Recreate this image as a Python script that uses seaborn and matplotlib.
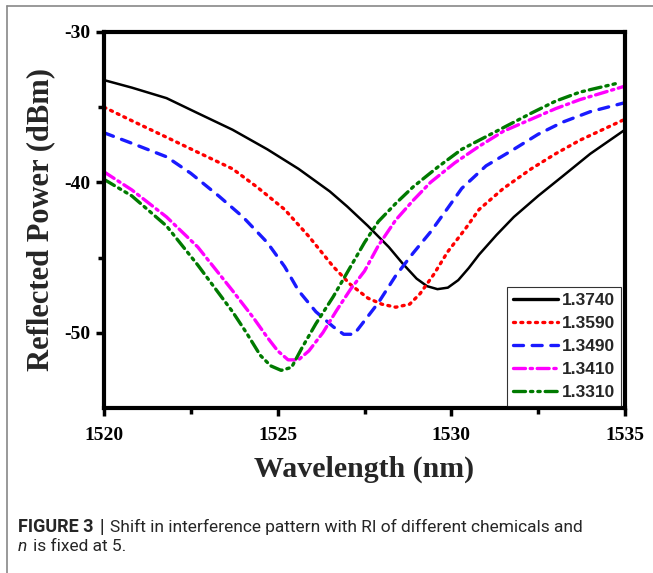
#!/usr/bin/env python3
"""Reflected power vs wavelength for different refractive indices"""

import matplotlib

matplotlib.use("Agg")
import matplotlib.pyplot as plt
import matplotlib.lines as mlines
import pandas as pd
import seaborn as sns

###########################################################
# Data
###########################################################

ri_labels = ["1.3740", "1.3590", "1.3490", "1.3410", "1.3310"]

wl_1374 = [1520.0, 1520.8, 1521.8, 1522.7, 1523.7, 1524.7, 1525.6, 1526.5, 1527.0,
           1527.6, 1528.2, 1528.6, 1529.0, 1529.3, 1529.6, 1529.9, 1530.2, 1530.5,
           1530.8, 1531.3, 1531.8, 1532.5, 1533.2, 1534.0, 1535.0]
pw_1374 = [-33.2, -33.7, -34.4, -35.4, -36.5, -37.8, -39.1, -40.6, -41.6,
           -42.9, -44.3, -45.4, -46.4, -46.9, -47.1, -47.0, -46.5, -45.7,
           -44.8, -43.5, -42.3, -40.9, -39.6, -38.1, -36.5]

wl_1359 = [1520.0, 1520.8, 1521.8, 1522.7, 1523.7, 1524.4, 1525.2, 1525.9, 1526.6,
           1527.1, 1527.6, 1528.0, 1528.4, 1528.8, 1529.1, 1529.5, 1529.9, 1530.4,
           1530.8, 1531.5, 1532.3, 1533.0, 1533.7, 1535.0]
pw_1359 = [-35.0, -35.9, -37.0, -38.0, -39.1, -40.3, -41.8, -43.6, -45.6,
           -46.8, -47.7, -48.1, -48.3, -48.1, -47.4, -46.1, -44.6, -43.1,
           -41.8, -40.4, -39.1, -38.1, -37.2, -35.8]

wl_1349 = [1520.0, 1520.8, 1521.8, 1522.5, 1523.3, 1524.0, 1524.7, 1525.2, 1525.6,
           1526.1, 1526.6, 1526.9, 1527.2, 1527.5, 1527.9, 1528.4, 1528.9, 1529.4,
           1529.9, 1530.3, 1531.0, 1531.8, 1532.5, 1533.2, 1534.0, 1535.0]
pw_1349 = [-36.7, -37.4, -38.3, -39.4, -40.9, -42.3, -44.0, -45.6, -47.2,
           -48.6, -49.6, -50.1, -50.1, -49.2, -48.0, -46.2, -44.7, -43.3,
           -41.7, -40.4, -38.9, -37.8, -36.8, -36.0, -35.3, -34.7]

wl_1341 = [1520.0, 1520.8, 1521.8, 1522.7, 1523.7, 1524.3, 1524.7, 1525.0, 1525.3,
           1525.6, 1525.9, 1526.3, 1526.7, 1527.1, 1527.5, 1527.9, 1528.4, 1528.9,
           1529.4, 1530.1, 1530.8, 1531.5, 1532.3, 1533.0, 1533.7, 1535.0]
pw_1341 = [-39.3, -40.5, -42.3, -44.3, -47.2, -49.0, -50.3, -51.2, -51.8,
           -51.8, -51.2, -50.0, -48.5, -47.1, -45.9, -44.2, -42.5, -41.2,
           -40.0, -38.7, -37.6, -36.6, -35.8, -35.1, -34.5, -33.6]

wl_1331 = [1520.0, 1520.8, 1521.8, 1522.7, 1523.7, 1524.1, 1524.5, 1524.8, 1525.1,
           1525.4, 1525.7, 1526.1, 1526.6, 1527.0, 1527.5, 1527.9, 1528.4, 1528.9,
           1529.6, 1530.3, 1531.3, 1532.3, 1533.0, 1533.7, 1534.8]
pw_1331 = [-39.8, -40.9, -42.9, -45.5, -48.6, -50.0, -51.5, -52.2, -52.5,
           -52.3, -51.0, -49.4, -47.6, -46.0, -44.0, -42.6, -41.4, -40.3,
           -39.0, -37.8, -36.6, -35.4, -34.6, -34.0, -33.4]

series = {
    "1.3740": (wl_1374, pw_1374),
    "1.3590": (wl_1359, pw_1359),
    "1.3490": (wl_1349, pw_1349),
    "1.3410": (wl_1341, pw_1341),
    "1.3310": (wl_1331, pw_1331),
}

x_ticks = [1520, 1525, 1530, 1535]
y_ticks = [-30, -40, -50]

###########################################################
# Main
###########################################################


def main():
    rows = []
    for ri, (wl, pw) in series.items():
        for w, p in zip(wl, pw):
            rows.append({"wavelength": w, "power": p, "RI": ri})
    df = pd.DataFrame(rows)

    sns.set_theme(style="ticks")
    plt.rcParams["font.family"] = ["Liberation Serif", "DejaVu Serif"]
    plt.rcParams["axes.unicode_minus"] = False

    fig = plt.figure(figsize=(6.53, 5.73), dpi=100)
    ax = fig.add_axes([0.1593, 0.2880, 0.7978, 0.6562])

    palette = {
        "1.3740": "#000000",
        "1.3590": "#ff0000",
        "1.3490": "#1a1aff",
        "1.3410": "#ff00ff",
        "1.3310": "#007a00",
    }
    dashes = {
        "1.3740": "",
        "1.3590": (0.6, 1.6),
        "1.3490": (3.0, 2.6),
        "1.3410": (3.6, 1.4, 0.7, 1.4),
        "1.3310": (3.6, 1.5, 0.7, 1.5, 0.7, 1.5),
    }
    sns.lineplot(
        data=df,
        x="wavelength",
        y="power",
        hue="RI",
        style="RI",
        hue_order=ri_labels,
        style_order=ri_labels,
        palette=palette,
        dashes=dashes,
        linewidth=2.4,
        estimator=None,
        ax=ax,
    )
    for line in ax.lines:
        line.set_dash_capstyle("round")
        line.set_solid_capstyle("round")
        line.set_solid_joinstyle("round")
    ax.lines[0].set_linewidth(1.8)

    ax.set_xlim(1520, 1535)
    ax.set_ylim(-55, -30)
    ax.set_xticks(x_ticks)
    ax.set_yticks(y_ticks)
    ax.set_xticks([1522.5, 1527.5, 1532.5], minor=True)
    ax.set_yticks([-35, -45], minor=True)
    ax.tick_params(which="major", direction="out", length=6, width=2.5,
                   labelsize=14, pad=4, color="black", labelcolor="black")
    ax.tick_params(axis="x", which="major", pad=8)
    ax.tick_params(which="minor", direction="out", length=4, width=2.5,
                   color="black")
    for lbl in ax.get_xticklabels() + ax.get_yticklabels():
        lbl.set_fontweight("bold")
    for sp in ax.spines.values():
        sp.set_visible(True)
        sp.set_linewidth(3)
        sp.set_color("black")

    ax.set_xlabel("Wavelength (nm)", fontsize=21.5, fontweight="bold", labelpad=8)
    ax.set_ylabel("Reflected Power (dBm)", fontsize=22, fontweight="bold", labelpad=6)

    handles, labels = ax.get_legend_handles_labels()
    pairs = [(h, l) for h, l in zip(handles, labels) if l in ri_labels]
    leg = ax.legend(
        [p[0] for p in pairs],
        [p[1] for p in pairs],
        loc="lower right",
        bbox_to_anchor=(0.992, 0.005),
        frameon=True,
        fancybox=False,
        edgecolor="black",
        handlelength=2.6,
        handletextpad=0.2,
        borderpad=0.35,
        labelspacing=0.45,
        borderaxespad=0.0,
        prop={"family": "Liberation Sans", "weight": "bold", "size": 12.5},
    )
    leg.get_frame().set_linewidth(0.8)

    # caption and figure frame
    fig.text(0.0276, 0.0803, "FIGURE 3", fontsize=13, fontweight="bold",
             family="Roboto", va="center")
    fig.text(0.153, 0.0803, "|", fontsize=13, fontweight="bold",
             family="Roboto", va="center")
    fig.text(0.168, 0.0803, "Shift in interference pattern with RI of different chemicals and",
             fontsize=12.5, family="Roboto", va="center")
    fig.text(0.0276, 0.0454, "n", fontsize=12.5, style="italic", family="Roboto",
             va="center")
    fig.text(0.0505, 0.0454, "is fixed at 5.", fontsize=12.5, family="Roboto",
             va="center")
    fig.add_artist(mlines.Line2D([0.011, 1.0], [0.989, 0.989], color="#888888", lw=1.2))
    fig.add_artist(mlines.Line2D([0.011, 0.011], [0.0, 0.989], color="#888888", lw=1.2))

    fig.savefig("out.png", dpi=100)


if __name__ == "__main__":
    main()
